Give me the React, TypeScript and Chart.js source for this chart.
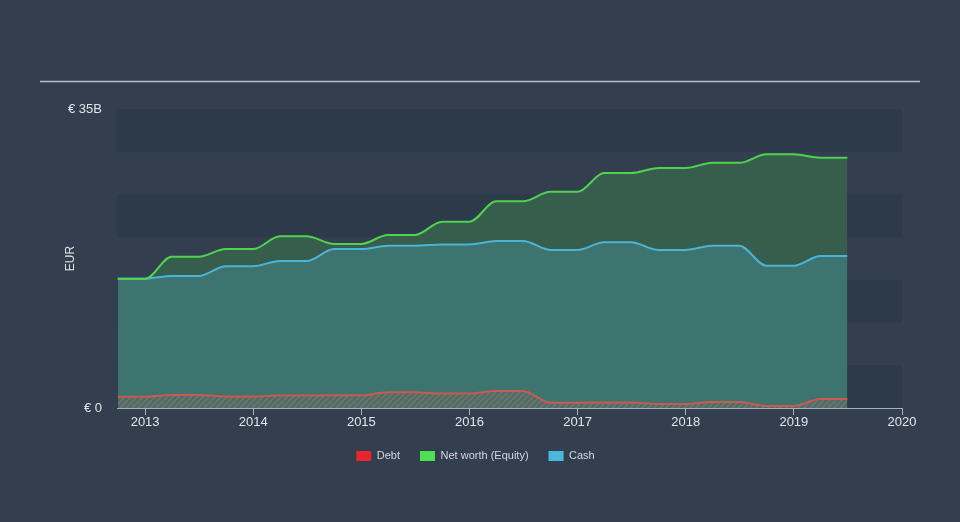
import React, { useEffect, useRef } from 'react';
import { Chart, registerables } from 'chart.js';

Chart.register(...registerables);

// Quarter-end reporting dates
const quarterDates = [
  '2012-09-30', '2012-12-31', '2013-03-31', '2013-06-30', '2013-09-30', '2013-12-31',
  '2014-03-31', '2014-06-30', '2014-09-30', '2014-12-31', '2015-03-31', '2015-06-30',
  '2015-09-30', '2015-12-31', '2016-03-31', '2016-06-30', '2016-09-30', '2016-12-31',
  '2017-03-31', '2017-06-30', '2017-09-30', '2017-12-31', '2018-03-31', '2018-06-30',
  '2018-09-30', '2018-12-31', '2019-03-31', '2019-06-30',
];

// Values in EUR billions
const debt = [
  1.32, 1.32, 1.52, 1.52, 1.35, 1.35, 1.46, 1.46, 1.48, 1.48, 1.84, 1.84, 1.7, 1.7,
  1.99, 1.99, 0.62, 0.62, 0.64, 0.64, 0.47, 0.47, 0.7, 0.7, 0.23, 0.23, 1.05, 1.05,
];
const netWorth = [
  15.1, 15.1, 17.7, 17.7, 18.6, 18.6, 20.1, 20.1, 19.2, 19.2, 20.25, 20.25, 21.8, 21.8,
  24.2, 24.2, 25.3, 25.3, 27.5, 27.5, 28.1, 28.1, 28.7, 28.7, 29.7, 29.7, 29.3, 29.3,
];
const cash = [
  15.15, 15.15, 15.45, 15.45, 16.6, 16.6, 17.2, 17.2, 18.6, 18.6, 19.0, 19.0, 19.15, 19.15,
  19.55, 19.55, 18.5, 18.5, 19.4, 19.4, 18.5, 18.5, 19.0, 19.0, 16.65, 16.65, 17.8, 17.8,
];

const xTickYears = [2013, 2014, 2015, 2016, 2017, 2018, 2019, 2020];
const yTickValues = [0, 35];
const legendLabels = ['Debt', 'Net worth (Equity)', 'Cash'];
const legendColors = ['#e8262b', '#4fe04f', '#4ab8de'];

function toDecimalYear(s: string): number {
  const d = new Date(s + 'T12:00:00Z');
  const y = d.getUTCFullYear();
  const start = Date.UTC(y, 0, 1);
  const end = Date.UTC(y + 1, 0, 1);
  return y + (d.getTime() - start) / (end - start);
}

const BG = '#333f4f';
const BAND = '#2d3a4a';

function makeHatch(): CanvasPattern | string {
  const c = document.createElement('canvas');
  c.width = 6;
  c.height = 6;
  const g = c.getContext('2d');
  if (!g) return 'rgba(200,90,75,0.4)';
  g.strokeStyle = 'rgba(215,95,80,0.6)';
  g.lineWidth = 1.4;
  g.beginPath();
  g.moveTo(0, 6);
  g.lineTo(6, 0);
  g.moveTo(-3, 3);
  g.lineTo(3, -3);
  g.moveTo(3, 9);
  g.lineTo(9, 3);
  g.stroke();
  const p = g.createPattern(c, 'repeat');
  return p || 'rgba(200,90,75,0.4)';
}

const backgroundPlugin = {
  id: 'bgBands',
  beforeDraw(chart: any) {
    const { ctx, chartArea, scales } = chart;
    ctx.save();
    ctx.fillStyle = BG;
    ctx.fillRect(0, 0, chart.width, chart.height);
    // top rule
    ctx.strokeStyle = '#b9bec5';
    ctx.lineWidth = 1.5;
    ctx.beginPath();
    ctx.moveTo(40, 81.5);
    ctx.lineTo(920, 81.5);
    ctx.stroke();
    // alternating bands
    const y = scales.y;
    for (let v = 0; v < 35; v += 10) {
      const top = y.getPixelForValue(v + 5);
      const bottom = y.getPixelForValue(v);
      ctx.fillStyle = BAND;
      ctx.fillRect(chartArea.left, top, chartArea.right - chartArea.left, bottom - top);
    }
    ctx.restore();
  },
};

export default function App() {
  const ref = useRef<HTMLCanvasElement | null>(null);

  useEffect(() => {
    document.body.style.margin = '0';
    document.body.style.background = BG;
    const canvas = ref.current;
    if (!canvas) return;
    const xs = quarterDates.map(toDecimalYear);
    const pts = (arr: number[]) => arr.map((v, i) => ({ x: xs[i], y: v }));
    const hatch = makeHatch();

    const chart = new Chart(canvas, {
      type: 'line',
      data: {
        datasets: [
          {
            label: legendLabels[0],
            data: pts(debt),
            borderColor: '#c95a4c',
            borderWidth: 2,
            backgroundColor: hatch as any,
            fill: 'origin',
            pointRadius: 0,
            cubicInterpolationMode: 'monotone',
          },
          {
            label: legendLabels[1],
            data: pts(netWorth),
            borderColor: '#4fd34f',
            borderWidth: 2,
            backgroundColor: '#375e4c',
            fill: { target: 2, above: '#375e4c', below: '#375e4c' },
            pointRadius: 0,
            cubicInterpolationMode: 'monotone',
          },
          {
            label: legendLabels[2],
            data: pts(cash),
            borderColor: '#4ab4d8',
            borderWidth: 2,
            backgroundColor: '#3d746f',
            fill: 'origin',
            pointRadius: 0,
            cubicInterpolationMode: 'monotone',
          },
        ],
      },
      options: {
        animation: false,
        responsive: false,
        maintainAspectRatio: false,
        layout: { padding: { left: 49, right: 58, top: 109, bottom: 50.5 } },
        font: { family: '"Liberation Sans", Arial, sans-serif' },
        scales: {
          x: {
            type: 'linear',
            min: 2012.74,
            max: 2020,
            afterBuildTicks: (scale: any) => {
              scale.ticks = xTickYears.map((v) => ({ value: v }));
            },
            afterFit: (scale: any) => {
              scale.height = 22.5;
            },
            grid: {
              display: true,
              drawOnChartArea: false,
              drawTicks: true,
              tickLength: 7,
              color: '#a9b1bc',
            },
            border: { display: true, color: '#a9b1bc', width: 1 },
            ticks: {
              color: '#e2e4e7',
              padding: 0,
              maxRotation: 0,
              autoSkip: false,
              font: { size: 13, family: '"Liberation Sans", Arial, sans-serif' },
              callback: (v: any) => String(v),
            },
          },
          y: {
            type: 'linear',
            min: 0,
            max: 35,
            afterBuildTicks: (scale: any) => {
              scale.ticks = yTickValues.map((v) => ({ value: v }));
            },
            afterFit: (scale: any) => {
              scale.width = 68;
            },
            grid: { display: false, drawTicks: false },
            border: { display: false },
            ticks: {
              color: '#e2e4e7',
              padding: 15,
              font: { size: 13, family: '"Liberation Sans", Arial, sans-serif' },
              callback: (v: any) => (v === 0 ? '€ 0' : `€ ${v}B`),
            },
            title: {
              display: true,
              text: 'EUR',
              color: '#e2e4e7',
              padding: { top: 14, bottom: 0 },
              font: { size: 12, family: '"Liberation Sans", Arial, sans-serif' },
            },
          },
        },
        plugins: {
          filler: { drawTime: 'beforeDatasetsDraw' } as any,
          tooltip: { enabled: false },
          legend: {
            display: true,
            position: 'bottom',
            labels: {
              boxWidth: 15,
              boxHeight: 10,
              padding: 20,
              color: '#d4d7db',
              font: { size: 11, family: '"Liberation Sans", Arial, sans-serif' },
              generateLabels: () =>
                legendLabels.map((t, i) => ({
                  text: t,
                  fillStyle: legendColors[i],
                  strokeStyle: legendColors[i],
                  lineWidth: 0,
                  hidden: false,
                  datasetIndex: i,
                  fontColor: '#d4d7db',
                })),
            },
          },
        },
      },
      plugins: [backgroundPlugin],
    });
    return () => chart.destroy();
  }, []);

  return (
    <div style={{ width: 960, height: 522, background: BG }}>
      <canvas ref={ref} width={960} height={522} style={{ display: 'block' }} />
    </div>
  );
}
